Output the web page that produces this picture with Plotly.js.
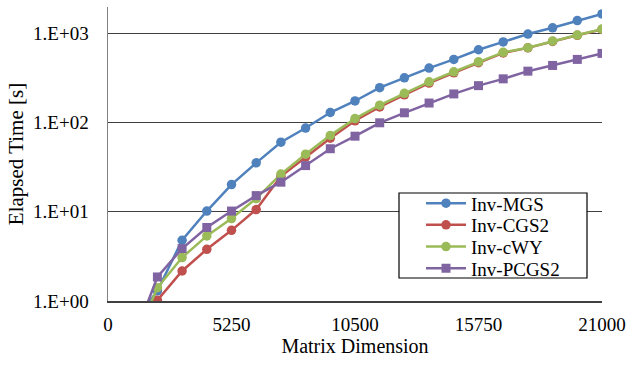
<!DOCTYPE html>
<html>
<head>
<meta charset="utf-8">
<script src="https://cdn.plot.ly/plotly-3.0.1.min.js"></script>
<style>html,body{margin:0;padding:0;background:#fff;}#chart{width:628px;height:365px;}</style>
</head>
<body>
<div id="chart"></div>
<script>
// Matrix dimensions (n = 1050 .. 21000)
var dims = [1050, 2100, 3150, 4200, 5250, 6300, 7350, 8400, 9450, 10500, 11550, 12600, 13650, 14700, 15750, 16800, 17850, 18900, 19950, 21000];
var seriesNames = ["Inv-MGS", "Inv-CGS2", "Inv-cWY", "Inv-PCGS2"];
var invMGS   = [0.55, 1.3, 4.8, 10.2, 20.2, 35.4, 60.4, 87, 130, 175, 247, 318, 409, 512, 657, 804, 985, 1158, 1396, 1657];
var invCGS2  = [0.3, 1.02, 2.17, 3.8, 6.2, 10.6, 25, 41.3, 67, 105, 150, 205, 278, 362, 470, 605, 690, 815, 955, 1110];
var invCWY   = [0.32, 1.41, 3.07, 5.37, 8.4, 14.1, 26.5, 44.3, 72, 111, 157, 213, 287, 372, 481, 614, 692, 822, 960, 1120];
var invPCGS2 = [0.35, 1.86, 3.87, 6.67, 10.2, 15.2, 21.5, 33, 51, 70.5, 99.6, 129, 166, 210, 260, 310, 378, 438, 512, 598];
var yTickVals = [1, 10, 100, 1000];
var yTickText = ["1.E+00", "1.E+01", "1.E+02", "1.E+03"];
var xTickVals = [0, 5250, 10500, 15750, 21000];

var colors = ["#4F81BD", "#C0504D", "#9BBB59", "#8064A2"];
var symbols = ["circle", "circle", "circle", "square"];
var sizes = [9.5, 9.5, 9.5, 9];
var ys = [invMGS, invCGS2, invCWY, invPCGS2];
var legendIds = ["legend", "legend2", "legend3", "legend4"];

var traces = ys.map(function (y, i) {
  return {
    x: dims, y: y, name: seriesNames[i], type: "scatter", mode: "lines+markers",
    line: {color: colors[i], width: 2.5},
    marker: {color: colors[i], symbol: symbols[i], size: sizes[i], line: {width: 0}},
    cliponaxis: true, legend: legendIds[i]
  };
});

var FAM = "Liberation Serif";

// plot area 108..602 x 7..301 (pixels) -> paper coords
function px(xp) { return (xp - 108) / 494; }
function py(yp) { return (301 - yp) / 294; }

var rowY = [203.3, 225, 246.7, 268.3];

var layout = {
  width: 628, height: 365,
  margin: {l: 108, r: 26, t: 7, b: 64},
  paper_bgcolor: "#fff", plot_bgcolor: "#fff",
  font: {family: FAM, color: "#000", size: 19},
  showlegend: true,
  shapes: [{
    type: "rect", xref: "paper", yref: "paper",
    x0: px(399), x1: px(587), y0: py(278), y1: py(193),
    line: {color: "#000", width: 1.2}, fillcolor: "#fff", layer: "above"
  }],
  xaxis: {
    range: [0, 21000], tickvals: xTickVals, ticktext: xTickVals.map(String),
    showgrid: false, zeroline: false, showline: true, linecolor: "#404040", linewidth: 1.5,
    ticks: "", tickfont: {family: FAM, size: 19, color: "#000"}, ticklabelstandoff: 6,
    title: {text: "Matrix Dimension", font: {family: FAM, size: 20, color: "#000"}, standoff: 4}
  },
  yaxis: {
    type: "log", range: [0, 3.297], tickvals: yTickVals, ticktext: yTickText,
    showgrid: true, gridcolor: "#404040", gridwidth: 1.3, zeroline: false,
    showline: true, linecolor: "#808080", linewidth: 1.5,
    ticks: "", tickfont: {family: FAM, size: 19, color: "#000"}, ticklabelstandoff: 14,
    title: {text: "Elapsed Time [s]", font: {family: FAM, size: 21, color: "#000"}, standoff: 4}
  }
};
legendIds.forEach(function (id, i) {
  layout[id] = {
    x: px(421), y: py(rowY[i]), xanchor: "left", yanchor: "middle",
    bgcolor: "rgba(0,0,0,0)", borderwidth: 0,
    font: {family: FAM, size: 19, color: "#000"},
    itemwidth: 40
  };
});

Plotly.newPlot("chart", traces, layout, {staticPlot: true, displayModeBar: false});
</script>
</body>
</html>
